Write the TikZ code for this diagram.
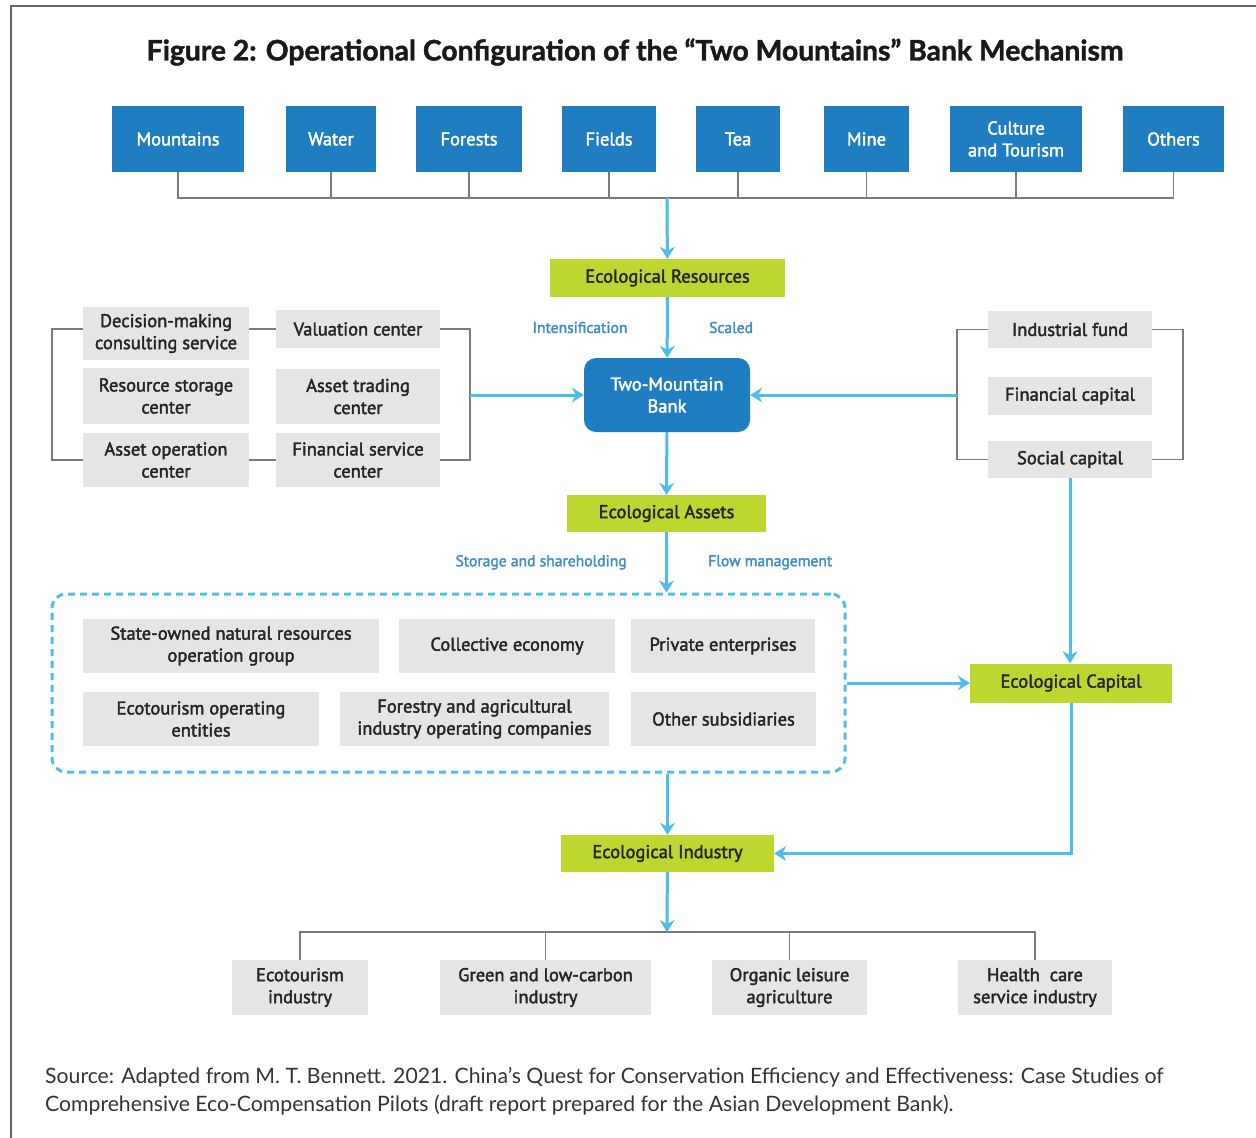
\documentclass[tikz,border=0pt]{standalone}
\usepackage{fontspec}
\setmainfont{Lato}
\newfontfamily\headfont{Lato}[BoldFeatures={FakeBold=1.5}]
\newfontfamily\boxfont{PT Sans}[FakeBold=2.2]
\usetikzlibrary{arrows.meta}

\definecolor{resblue}{HTML}{1F7DC1}
\definecolor{leafgreen}{HTML}{BED630}
\definecolor{boxgray}{HTML}{E5E5E5}
\definecolor{flowblue}{HTML}{4DBEEB}
\definecolor{tagblue}{HTML}{3F8CC8}
\definecolor{linkgray}{HTML}{7B7B7B}

\tikzset{
  box/.style={inner sep=0pt, align=center,
              font=\boxfont\fontsize{18.5}{22}\selectfont},
  resbox/.style={box, fill=resblue, text=white, minimum height=66pt},
  ecobox/.style={box, fill=leafgreen, text=black!85},
  cellbox/.style={box, fill=boxgray, text=black!85},
  link/.style={draw=linkgray, line width=1.3pt},
  flow/.style={draw=flowblue, line width=3pt,
               -{Stealth[length=12pt,width=15pt,inset=4pt]}},
  tag/.style={text=tagblue, font=\boxfont\fontsize{15.6}{18}\selectfont},
}

\begin{document}
\begin{tikzpicture}[x=1pt, y=-1pt]
  \useasboundingbox (0,0) rectangle (1256,1138);
  % frame and heading
  \draw[black!60, line width=1.5pt] (11,1138) -- (11,6) -- (1256,6);
  \node[font=\headfont\bfseries\fontsize{28.3}{32}\selectfont, text=black!90] (title) at (635,52)
    {Figure 2: Operational Configuration of the “Two Mountains” Bank Mechanism};

  % resource types along the top
  \coordinate (bus) at (667,198);
  \foreach \cx/\w/\nm/\txt in {178/132/mnt/Mountains, 331/90/wat/Water,
      469/106/frs/Forests, 609/94/fld/Fields, 738/84/tea/Tea, 866.5/85/min/Mine,
      1016/132/cul/{Culture\\and Tourism}, 1173.5/101/oth/Others} {
    \node[resbox, minimum width=\w pt] (\nm) at (\cx,139) {\txt};
    \draw[link] (\nm.south) |- (bus);
  }

  % main column
  \node[ecobox, minimum width=235pt, minimum height=38pt] (ecores) at (667.5,278) {Ecological Resources};
  \node[box, fill=resblue, text=white, rounded corners=12pt,
        minimum width=166pt, minimum height=74pt] (bank) at (667,395) {Two-Mountain\\Bank};
  \node[ecobox, minimum width=199pt, minimum height=37pt] (ecoasset) at (666.5,513.5) {Ecological Assets};
  \node[ecobox, minimum width=202pt, minimum height=39pt] (ecocap) at (1071,683) {Ecological Capital};
  \node[ecobox, minimum width=213pt, minimum height=37pt] (ecoind) at (667.5,853.5) {Ecological Industry};

  % service centers on the left
  \node[cellbox, minimum width=166pt, minimum height=53pt] (dec) at (166,333.5) {Decision-making\\consulting service};
  \node[cellbox, minimum width=164pt, minimum height=38pt] (val) at (358,329) {Valuation center};
  \node[cellbox, minimum width=166pt, minimum height=56pt] (sto) at (166,396) {Resource storage\\center};
  \node[cellbox, minimum width=164pt, minimum height=55pt] (trd) at (358,396.5) {Asset trading\\center};
  \node[cellbox, minimum width=166pt, minimum height=54pt] (aop) at (166,460) {Asset operation\\center};
  \node[cellbox, minimum width=164pt, minimum height=54pt] (fin) at (358,460) {Financial service\\center};
  \coordinate (lb) at (52,395);
  \coordinate (rb) at (470,395);
  \draw[link] (dec.west |- val) -| (lb) |- (aop.west);
  \draw[link] (dec.east |- val) -- (val.west);
  \draw[link] (aop) -- (fin);
  \draw[link] (val) -| (rb) |- (fin);

  % capital sources on the right
  \node[cellbox, minimum width=164pt, minimum height=37pt] (ifund) at (1070,329.5) {Industrial fund};
  \node[cellbox, minimum width=164pt, minimum height=38pt] (fcap) at (1070,396) {Financial capital};
  \node[cellbox, minimum width=164pt, minimum height=37pt] (scap) at (1070,459.5) {Social capital};
  \coordinate (lc) at (957,395);
  \coordinate (rc) at (1183,395);
  \draw[link] (ifund) -| (lc) |- (scap);
  \draw[link] (ifund) -| (rc) |- (scap);

  % operating entities
  \node[draw=flowblue, dashed, dash pattern=on 7pt off 5pt, line width=3pt, rounded corners=14pt,
        minimum width=793pt, minimum height=178pt] (firms) at (448.5,683) {};
  \node[cellbox, minimum width=296pt, minimum height=54pt] (sog) at (231,646) {State-owned natural resources\\operation group};
  \node[cellbox, minimum width=216pt, minimum height=54pt] (col) at (507,646) {Collective economy};
  \node[cellbox, minimum width=184pt, minimum height=54pt] (pri) at (723,646) {Private enterprises};
  \node[cellbox, minimum width=236pt, minimum height=54pt] (eto) at (201,719) {Ecotourism operating\\entities};
  \node[cellbox, minimum width=269pt, minimum height=54pt] (fag) at (474.5,719) {Forestry and agricultural\\industry operating companies};
  \node[cellbox, minimum width=185pt, minimum height=54pt] (sub) at (723.5,719) {Other subsidiaries};

  % industries at the bottom
  \coordinate (hub) at (667,932);
  \node[cellbox, minimum width=136pt, minimum height=55pt] (tind) at (300,987.5) {Ecotourism\\industry};
  \node[cellbox, minimum width=211pt, minimum height=55pt] (gind) at (545.5,987.5) {Green and low-carbon\\industry};
  \node[cellbox, minimum width=155pt, minimum height=55pt] (oagr) at (789.5,987.5) {Organic leisure\\agriculture};
  \node[cellbox, minimum width=154pt, minimum height=55pt] (hind) at (1035,987.5) {Health\ \ care\\service industry};
  \foreach \nm in {tind,gind,oagr,hind}
    \draw[link] (hub) -| (\nm);

  % flows
  \draw[flow] (bus) -- (ecores);
  \draw[flow] (ecores) -- (bank)
    node[tag, midway, left=35pt] {Intensification}
    node[tag, midway, right=37pt] {Scaled};
  \draw[flow] (rb) -- (bank);
  \draw[flow] (lc) -- (bank);
  \draw[flow] (bank) -- (ecoasset);
  \draw[flow] (ecoasset) -- (ecoasset |- firms.north)
    node[tag, midway, left=35pt] {Storage and shareholding}
    node[tag, midway, right=37pt] {Flow management};
  \draw[flow] (scap) -- (scap |- ecocap.north);
  \draw[flow] (firms) -- (ecocap);
  \draw[flow] (firms.south -| ecoind) -- (ecoind);
  \draw[flow] (ecocap) |- (ecoind);
  \draw[flow] (ecoind) -- (hub);

  % source note
  \node[anchor=north west, inner sep=0pt, align=left, font=\fontsize{21.2}{28}\selectfont, text=black!80] (src) at (45,1067)
    {Source: Adapted from M. T. Bennett. 2021. China’s Quest for Conservation Efficiency and Effectiveness: Case Studies of\\
     Comprehensive Eco-Compensation Pilots (draft report prepared for the Asian Development Bank).};
\end{tikzpicture}
\end{document}
